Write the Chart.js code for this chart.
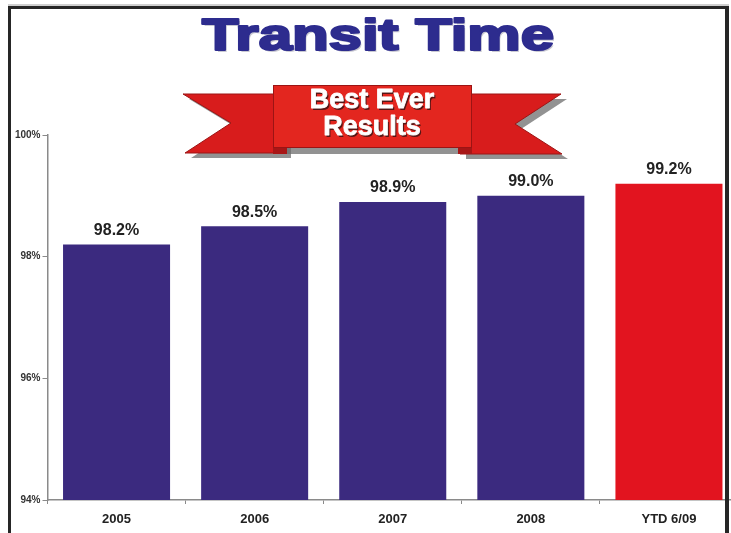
<!DOCTYPE html>
<html lang="en">
<head>
  <meta charset="UTF-8">
  <title>Transit Time</title>
  <style>
    body {
      margin: 0;
      background: #ffffff;
    }
    #wrap {
      width: 731px;
      height: 533px;
      overflow: hidden;
      position: relative;
    }
    canvas {
      display: block;
    }
  </style>
</head>
<body>

  <div id="wrap">
    <canvas id="chartCanvas" width="738" height="533"></canvas>
  </div>

  <script src="https://cdn.jsdelivr.net/npm/chart.js"></script>
  <script>
    // Data
    const years = ['2005', '2006', '2007', '2008', 'YTD 6/09'];
    const onTimePct = [98.2, 98.5, 98.9, 99.0, 99.2];
    const barColors = ['#3b2a7f', '#3b2a7f', '#3b2a7f', '#3b2a7f', '#e2141f'];
    const yTicks = [94, 96, 98, 100];

    const titleText = 'Transit Time';
    const bannerLines = ['Best Ever', 'Results'];

    // Frame, title and the red ribbon
    const decorPlugin = {
      id: 'decor',
      afterDraw(chart) {
        const ctx = chart.ctx;
        ctx.save();

        // title, stretched wide and heavy
        ctx.font = 'bold 45px "Liberation Sans", Arial, sans-serif';
        ctx.textAlign = 'center';
        ctx.textBaseline = 'alphabetic';
        const w = ctx.measureText(titleText).width;
        const sx = 352 / w;
        ctx.save();
        ctx.translate(378, 50);
        ctx.scale(sx, 1);
        ctx.lineJoin = 'round';
        ctx.fillStyle = 'rgba(120,120,140,0.4)';
        ctx.fillText(titleText, 1.5, 2);
        ctx.fillStyle = '#2d2c8e';
        ctx.strokeStyle = '#2d2c8e';
        ctx.lineWidth = 2.2;
        ctx.strokeText(titleText, 0, 0);
        ctx.fillText(titleText, 0, 0);
        ctx.restore();

        // ribbon
        const leftTail = [[183, 94], [285, 94], [285, 153], [185, 153], [231, 123]];
        const rightTail = [[460, 94], [561, 94], [515, 124], [562, 154], [460, 154]];
        const poly = (pts, dx, dy) => {
          ctx.beginPath();
          pts.forEach((p, i) => i ? ctx.lineTo(p[0] + dx, p[1] + dy) : ctx.moveTo(p[0] + dx, p[1] + dy));
          ctx.closePath();
        };
        // shadows
        ctx.fillStyle = 'rgba(110,110,110,0.75)';
        poly(leftTail, 6, 5); ctx.fill();
        poly(rightTail, 6, 5); ctx.fill();
        ctx.fillRect(279, 148, 199, 6);

        ctx.fillStyle = '#d81c1c';
        ctx.strokeStyle = '#9c1414';
        ctx.lineWidth = 1;
        poly(leftTail, 0, 0); ctx.fill(); ctx.stroke();
        poly(rightTail, 0, 0); ctx.fill(); ctx.stroke();

        // folds under the centre piece
        ctx.fillStyle = '#a81616';
        ctx.fillRect(273, 146, 14, 8);
        ctx.fillRect(458, 146, 14, 8);

        ctx.fillStyle = '#e3261f';
        ctx.fillRect(273, 85, 199, 63);
        ctx.strokeRect(273.5, 85.5, 198, 62);

        ctx.font = 'bold 27px "Liberation Sans", Arial, sans-serif';
        ctx.textAlign = 'center';
        ctx.textBaseline = 'middle';
        ctx.lineJoin = 'round';
        bannerLines.forEach((line, i) => {
          const y = 101 + i * 27;
          ctx.fillStyle = 'rgba(60,20,20,0.85)';
          ctx.fillText(line, 373.5, y + 1.5);
          ctx.fillStyle = '#ffffff';
          ctx.strokeStyle = '#ffffff';
          ctx.lineWidth = 0.8;
          ctx.strokeText(line, 372, y);
          ctx.fillText(line, 372, y);
        });

        // frame
        ctx.fillStyle = '#cfcfcf';
        ctx.fillRect(8, 4, 721, 2);
        ctx.fillStyle = '#262626';
        ctx.fillRect(8, 6, 721, 3);
        ctx.fillRect(8, 6, 3, 527);
        ctx.fillRect(725, 6, 4, 527);

        ctx.restore();
      }
    };

    // value labels above each bar
    const valueLabels = {
      id: 'valueLabels',
      afterDatasetsDraw(chart) {
        const ctx = chart.ctx;
        const meta = chart.getDatasetMeta(0);
        ctx.save();
        ctx.font = 'bold 16px "Liberation Sans", Arial, sans-serif';
        ctx.fillStyle = '#222222';
        ctx.textAlign = 'center';
        ctx.textBaseline = 'bottom';
        meta.data.forEach((bar, i) => {
          ctx.fillText(onTimePct[i].toFixed(1) + '%', bar.x, bar.y - 6);
        });
        ctx.restore();
      }
    };

    const ctx = document.getElementById('chartCanvas').getContext('2d');

    new Chart(ctx, {
      type: 'bar',
      data: {
        labels: years,
        datasets: [{
          data: onTimePct,
          backgroundColor: barColors,
          borderWidth: 0,
          barPercentage: 0.775,
          categoryPercentage: 1.0
        }]
      },
      options: {
        responsive: false,
        animation: false,
        layout: {
          padding: { top: 135, left: 0, right: 0, bottom: 0 }
        },
        plugins: {
          legend: { display: false },
          tooltip: { enabled: false }
        },
        scales: {
          x: {
            afterFit(scale) { scale.height = 33; },
            border: { color: '#8a8a8a', width: 1.5 },
            grid: {
              offset: true,
              drawOnChartArea: false,
              tickLength: 4,
              color: '#8a8a8a'
            },
            ticks: {
              padding: 8,
              color: '#222222',
              font: { family: '"Liberation Sans", Arial, sans-serif', size: 13, weight: 'bold' }
            }
          },
          y: {
            min: 94,
            max: 100,
            afterFit(scale) { scale.width = 47.5; },
            afterBuildTicks(scale) {
              scale.ticks = yTicks.map(v => ({ value: v }));
            },
            border: { color: '#8a8a8a', width: 1.5 },
            grid: {
              drawOnChartArea: false,
              tickLength: 5,
              color: '#8a8a8a'
            },
            ticks: {
              padding: 2,
              color: '#333333',
              font: { family: '"Liberation Sans", Arial, sans-serif', size: 10, weight: 'bold' },
              callback: v => v + '%'
            }
          }
        }
      },
      plugins: [valueLabels, decorPlugin]
    });
  </script>

</body>
</html>
